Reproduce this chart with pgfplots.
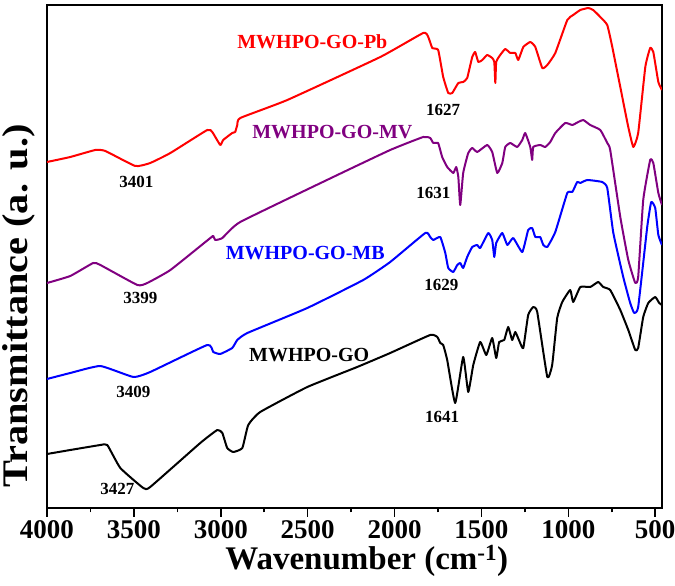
\documentclass[border=0pt]{standalone}
\usepackage{fontspec}
\setmainfont{Liberation Serif}
\newfontfamily\ylabfont{Liberation Serif}[FakeStretch=1.12]
\usepackage{pgfplots}
\pgfplotsset{compat=1.18}
\definecolor{cred}{RGB}{255,0,0}
\definecolor{cpur}{RGB}{128,0,128}
\definecolor{cblue}{RGB}{0,0,255}
\begin{document}
\begin{tikzpicture}
\begin{axis}[
  scale only axis, width=615pt, height=503pt,
  x dir=reverse, xmin=461, xmax=4000, ymin=0, ymax=503,
  axis line style={line width=1.6pt},
  ytick=\empty,
  xtick={500,1000,...,4000}, minor x tick num=1,
  xtick pos=bottom, tick align=outside,
  major tick length=9pt, minor tick length=4.5pt,
  every tick/.style={line width=1.6pt, black},
  /pgf/number format/1000 sep={},
  /pgf/number format/assume math mode=true,
  xticklabel style={font=\bfseries\fontsize{27}{27}\selectfont, inner sep=0pt, yshift=-3pt},
  xlabel={Wavenumber (cm\textsuperscript{-1})},
  xlabel style={font=\bfseries\fontsize{33}{33}\selectfont, at={(axis description cs:0.520,-0.123)}, anchor=base, inner sep=0pt},
  ylabel={Transmittance (a. u.)},
  ylabel style={font=\ylabfont\bfseries\fontsize{36}{36}\selectfont, at={(axis description cs:-0.0309,0.4016)}, anchor=base, inner sep=0pt},
  every axis plot/.append style={line width=2pt, line join=round, no marks, smooth, tension=0.25},
  clip=true,
]
% MWHPO-GO-Pb
\addplot[cred] coordinates {
(4000,346)(3866,351)(3722,358)(3664,357)(3492,342)(3406,345)(3290,355)(3078,378)(3049,376)(3003,363)(2986,368)(2934,375)(2917,376)(2905,383)(2888,390)(2617,408)(2082,451)(1835,475)(1806,471)(1783,460)(1749,458)(1720,431)(1691,415)(1668,415)(1633,425)(1605,426)(1582,430)(1553,451)(1536,456)(1518,446)(1495,448)(1467,453)(1438,450)(1426,446)(1420,425)(1415,446)(1392,453)(1363,459)(1334,455)(1305,455)(1288,448)(1259,461)(1219,466)(1190,461)(1150,440)(1121,443)(1075,455)(1006,488)(972,493)(931,498)(885,500)(857,498)(816,491)(776,483)(747,461)(701,421)(655,381)(626,361)(598,375)(557,441)(529,460)(511,456)(482,426)(461,418)
};
% MWHPO-GO-MV
\addplot[cpur] coordinates {
(4000,225)(3866,232)(3734,245)(3693,243)(3480,223)(3423,225)(3290,238)(3060,270)(3043,272)(3032,268)(2991,270)(2888,286)(2353,331)(2025,358)(1835,371)(1795,370)(1777,365)(1749,365)(1726,351)(1697,341)(1662,335)(1645,341)(1633,331)(1622,303)(1605,335)(1576,355)(1553,360)(1524,356)(1467,363)(1438,356)(1409,335)(1380,345)(1363,361)(1334,365)(1294,361)(1265,368)(1248,375)(1219,361)(1208,348)(1202,361)(1162,363)(1133,361)(1104,366)(1075,375)(1018,385)(977,383)(943,386)(914,388)(874,383)(816,378)(776,365)(759,358)(701,291)(655,248)(615,225)(598,231)(569,308)(529,348)(511,345)(482,315)(461,303)
};
% MWHPO-GO-MB
\addplot[cblue] coordinates {
(4000,129)(3866,135)(3693,142)(3503,131)(3406,136)(3078,163)(3043,156)(3003,154)(2934,160)(2905,168)(2847,175)(2502,200)(2180,228)(2025,246)(1823,275)(1795,271)(1777,268)(1737,271)(1708,255)(1691,240)(1662,236)(1639,243)(1622,245)(1605,240)(1582,251)(1553,261)(1524,263)(1507,260)(1461,275)(1438,268)(1426,251)(1415,265)(1380,275)(1351,263)(1317,270)(1265,256)(1231,278)(1208,280)(1190,271)(1162,271)(1144,263)(1121,261)(1075,276)(1006,315)(977,316)(949,326)(931,325)(891,328)(805,326)(776,320)(741,275)(684,231)(644,205)(621,195)(598,201)(546,281)(523,306)(500,300)(482,273)(461,263)
};
% MWHPO-GO
\addplot[black] coordinates {
(4000,54)(3866,58)(3693,63)(3653,63)(3578,40)(3446,20)(3406,21)(3118,65)(3020,78)(2991,75)(2963,60)(2928,56)(2876,60)(2842,83)(2773,96)(2502,121)(2215,141)(2025,155)(1795,173)(1754,171)(1737,165)(1720,163)(1697,148)(1651,105)(1605,151)(1576,116)(1547,143)(1507,166)(1472,153)(1438,170)(1415,150)(1398,166)(1369,168)(1346,181)(1323,168)(1305,176)(1277,165)(1259,160)(1231,193)(1202,201)(1179,196)(1121,131)(1093,143)(1064,190)(1035,206)(989,218)(972,206)(931,221)(874,221)(828,226)(799,221)(759,218)(701,198)(655,178)(615,158)(598,160)(569,191)(540,205)(500,211)(477,205)(461,203)
};
\begin{scope}[every node/.style={font=\bfseries\fontsize{20}{20}\selectfont, inner sep=0pt}]
\node[cred]  at (axis cs:2473,466) {MWHPO-GO-Pb};
\node[cpur]  at (axis cs:2358,376) {MWHPO-GO-MV};
\node[cblue] at (axis cs:2514,255) {MWHPO-GO-MB};
\node[black] at (axis cs:2491,153) {MWHPO-GO};
\end{scope}
\begin{scope}[every node/.style={font=\bfseries\fontsize{17}{17}\selectfont, inner sep=0pt, black}]
\node at (axis cs:1720,398) {1627};
\node at (axis cs:1777,315) {1631};
\node at (axis cs:1731,223) {1629};
\node at (axis cs:1726,91) {1641};
\node at (axis cs:3486,326) {3401};
\node at (axis cs:3463,210) {3399};
\node at (axis cs:3503,116) {3409};
\node at (axis cs:3595,19) {3427};
\end{scope}
\end{axis}
\pgfresetboundingbox
\path (-47pt,-78pt) rectangle (628pt,508pt);
\end{tikzpicture}
\end{document}
